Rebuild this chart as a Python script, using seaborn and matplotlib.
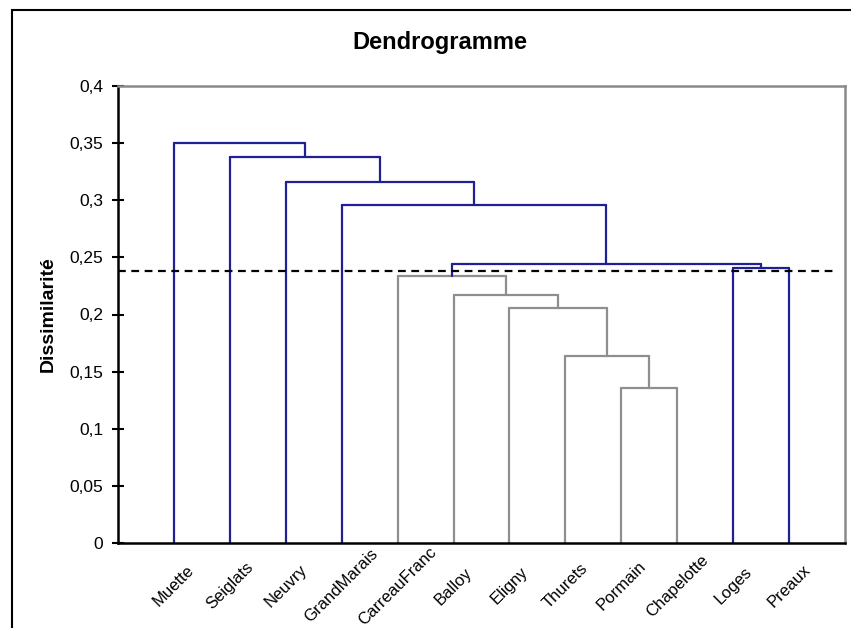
import numpy as np
import pandas as pd
import matplotlib
matplotlib.use("Agg")
import matplotlib.pyplot as plt
import seaborn as sns
from matplotlib.patches import Rectangle

sns.set_style("white")
plt.rcParams['font.family'] = ['Liberation Sans', 'DejaVu Sans']
plt.rcParams['text.color'] = 'black'
plt.rcParams['axes.labelcolor'] = 'black'
plt.rcParams['xtick.color'] = 'black'
plt.rcParams['ytick.color'] = 'black'

# Leaves in dendrogram order
leaves = ["Muette", "Seiglats", "Neuvry", "GrandMarais", "CarreauFranc", "Balloy",
          "Eligny", "Thurets", "Pormain", "Chapelotte", "Loges", "Preaux"]

# Merges: (left node, right node, dissimilarity) - nodes are leaf names or merge ids "m0", "m1", ...
merge_left = ["Pormain", "Thurets", "Eligny", "Balloy", "CarreauFranc", "Loges", "m4", "GrandMarais", "Neuvry", "Seiglats", "Muette"]
merge_right = ["Chapelotte", "m0", "m1", "m2", "m3", "Preaux", "m5", "m6", "m7", "m8", "m9"]
merge_height = [0.136, 0.164, 0.206, 0.217, 0.234, 0.241, 0.244, 0.296, 0.316, 0.338, 0.350]

cut_level = 0.238

blue = "#1f1f96"
gray = "#8e8e8e"

# Node positions
pos = {name: i + 1 for i, name in enumerate(leaves)}
hgt = {name: 0.0 for name in leaves}

segs = []
for k, (a, b, h) in enumerate(zip(merge_left, merge_right, merge_height)):
    col = gray if h < cut_level else blue
    xa, xb = pos[a], pos[b]
    # vertical stems
    for node in (a, b):
        segs.append(([pos[node], pos[node]], [hgt[node], h], col))
    segs.append(([xa, xb], [h, h], col))
    mid = "m%d" % k
    pos[mid] = (xa + xb) / 2
    hgt[mid] = h

fig = plt.figure(figsize=(8.51, 6.28), dpi=100)
ax = fig.add_axes([118 / 851, 1 - 543 / 628, (845 - 118) / 851, (543 - 86) / 628])

for xs, ys, c in segs:
    sns.lineplot(x=xs, y=ys, ax=ax, color=c, linewidth=1.6, sort=False, estimator=None)

ax.axhline(cut_level, color="black", linestyle=(0, (3.5, 2.5)), linewidth=1.6, xmin=0, xmax=0.99)

ax.set_xlim(0, 13)
ax.set_ylim(0, 0.4)
yt = np.arange(0, 0.401, 0.05)
ax.set_yticks(yt)
ax.set_yticklabels([("%g" % round(v, 2)).replace(".", ",") for v in yt], fontsize=12.5)
ax.set_xticks(range(1, len(leaves) + 1))
ax.set_xticklabels(leaves, rotation=45, ha="center", va="center", rotation_mode="anchor", fontsize=12)
ax.tick_params(axis="y", direction="inout", length=9, width=1.5, left=True, pad=6)
ax.tick_params(axis="x", length=0, pad=31)

for s in ["left", "bottom"]:
    ax.spines[s].set_color("black")
    ax.spines[s].set_linewidth(1.8)
for s in ["top", "right"]:
    ax.spines[s].set_color("#8a8a8a")
    ax.spines[s].set_linewidth(1.8)

ax.set_ylabel("Dissimilarité", fontsize=14, fontweight="bold", labelpad=9)
ax.set_xlabel("")
fig.text(440 / 851, 1 - 42 / 628, "Dendrogramme", fontsize=17, fontweight="bold", ha="center", va="center")

fig.patches.append(Rectangle((12 / 851, -0.1), 1.2, 1.1 - 10 / 628, transform=fig.transFigure,
                             fill=False, edgecolor="black", linewidth=1.5))

fig.savefig("out.png", dpi=100)
